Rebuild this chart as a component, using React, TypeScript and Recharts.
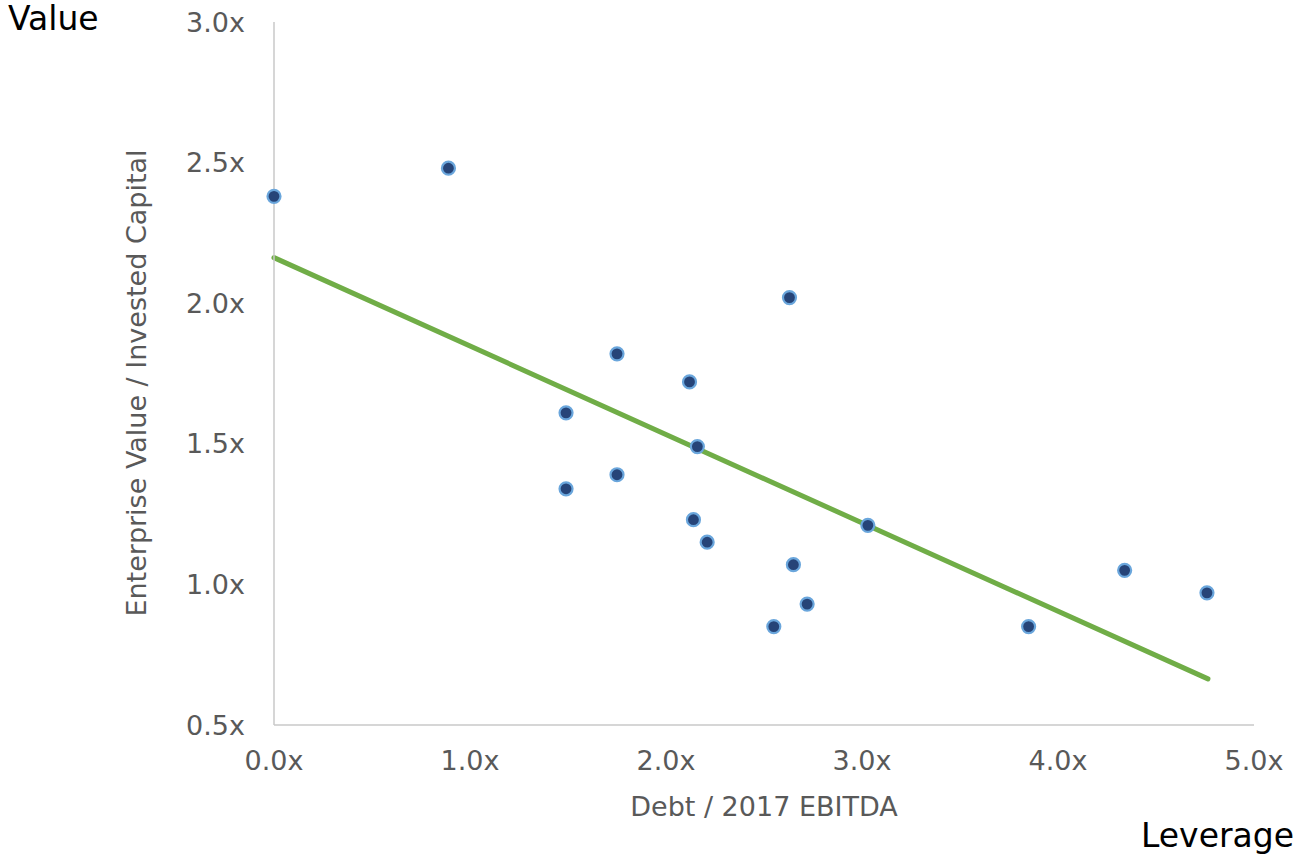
import * as React from 'react';
import { ScatterChart, Scatter, XAxis, YAxis, ReferenceLine } from 'recharts';

// leverage (Debt / 2017 EBITDA) vs value (EV / Invested Capital)
const leverage = [0.0, 0.89, 2.63, 1.75, 2.12, 1.49, 2.16, 1.49, 1.75, 2.14, 2.21, 3.03, 2.65, 2.72, 2.55, 3.85, 4.34, 4.76];
const evIc = [2.38, 2.48, 2.02, 1.82, 1.72, 1.61, 1.49, 1.34, 1.39, 1.23, 1.15, 1.21, 1.07, 0.93, 0.85, 0.85, 1.05, 0.97];
const trendX = [0, 4.765];
const trendY = [2.162, 0.664];
const xTicks = [0, 1, 2, 3, 4, 5];
const yTicks = [0.5, 1.0, 1.5, 2.0, 2.5, 3.0];

const points = leverage.map((x, i) => ({ x, y: evIc[i] }));
const trend = trendX.map((x, i) => ({ x, y: trendY[i] }));

const FONT = '"DejaVu Sans", sans-serif';
const fmt = (v: number) => `${v.toFixed(1)}x`;

const Dot = (p: any) => (
  <circle cx={p.cx} cy={p.cy} r={6.5} fill="#264478" stroke="#6aa6dc" strokeWidth={2.2} />
);

const YTitle = () => (
  <text x={136} y={383} transform="rotate(-90 136 383)" textAnchor="middle" dominantBaseline="central"
    fill="#595959" fontSize={27} fontFamily={FONT}>
    Enterprise Value / Invested Capital
  </text>
);

export default function App() {
  return (
    <div style={{ position: 'absolute', left: 0, top: 0, width: 1298, height: 856, background: '#fff', fontFamily: FONT }}>
      <ScatterChart width={1298} height={856} margin={{ top: 22, right: 44, bottom: 0, left: 0 }}>
        <XAxis
          type="number" dataKey="x" domain={[0, 5]} ticks={xTicks} tickFormatter={fmt}
          height={131} tickLine={false} tickSize={0} tickMargin={26}
          axisLine={{ stroke: '#c8c8c8', strokeWidth: 1.5 }}
          tick={{ fill: '#595959', fontSize: 27, fontFamily: FONT }}
          label={{ value: 'Debt / 2017 EBITDA', position: 'insideBottom', offset: 40, fill: '#595959', fontSize: 27, fontFamily: FONT }}
        />
        <YAxis
          type="number" dataKey="y" domain={[0.5, 3]} ticks={yTicks} tickFormatter={fmt}
          width={274} tickLine={false} tickSize={0} tickMargin={29}
          axisLine={{ stroke: '#c8c8c8', strokeWidth: 1.5 }}
          tick={{ fill: '#595959', fontSize: 27, fontFamily: FONT }}
          label={{ content: YTitle }}
        />
        <Scatter data={points} shape={Dot} isAnimationActive={false} />
        <ReferenceLine
          segment={trend}
          stroke="#70ad47" strokeWidth={5} strokeLinecap="round" ifOverflow="visible"
        />
      </ScatterChart>
      <div style={{ position: 'absolute', left: 8, top: 2, fontSize: 33, lineHeight: '33px', color: '#000' }}>Value</div>
      <div style={{ position: 'absolute', left: 1141, top: 819, fontSize: 33, lineHeight: '33px', color: '#000' }}>Leverage</div>
    </div>
  );
}
